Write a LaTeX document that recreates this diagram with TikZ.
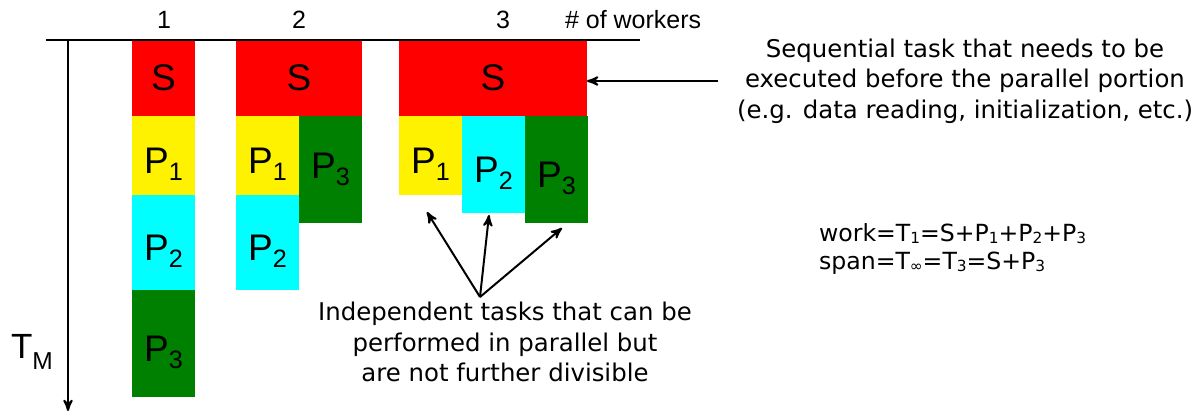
\documentclass[tikz,border=0pt]{standalone}
\usepackage{fontspec}
\setmainfont{Liberation Sans}
\newfontfamily\dejavu{DejaVu Sans}
\usetikzlibrary{positioning,arrows}

\definecolor{dkgreen}{RGB}{0,128,0}
\definecolor{aqua}{RGB}{0,255,255}
\newcommand{\lo}[2][.68]{\raisebox{-.2em}{\scalebox{#1}{#2}}}
\newcommand{\idx}[1]{\raisebox{-.1em}{\scalebox{.65}{#1}}}

\tikzstyle{task} = [rectangle, inner sep=0pt, outer sep=0pt, minimum width=31.5pt,
    font=\fontsize{18.5}{20}\selectfont]
\tikzstyle{seq} = [task, fill=red, minimum height=38pt]
\tikzstyle{ptask} = [task, text height=18pt, text depth=0pt]
\tikzstyle{pone} = [ptask, fill=yellow, minimum height=39.5pt]
\tikzstyle{ptwo} = [ptask, fill=aqua, minimum height=47.5pt]
\tikzstyle{pthree} = [ptask, fill=dkgreen, minimum height=53.5pt]
\tikzstyle{count} = [font=\fontsize{12.5}{15}\selectfont]
\tikzstyle{note} = [font=\dejavu\fontsize{12.2}{15.2}\selectfont, align=center]
\tikzstyle{line} = [draw, line width=1pt, -stealth']

\begin{document}
\begin{tikzpicture}[x=0.5pt, y=-0.5pt]
\useasboundingbox (0,0) rectangle (1200,412);
 % one worker
 \node[seq, anchor=north west] (s1) at (132,40) {S};
 \node[pone, below=0pt of s1] (p11) {P\lo1};
 \node[ptwo, below=0pt of p11] (p12) {P\lo2};
 \node[pthree, below=0pt of p12] (p13) {P\lo3};
 % two workers
 \node[seq, minimum width=63pt, anchor=north west] (s2) at (236,40) {S};
 \node[pone, anchor=north west] (p21) at (s2.south west) {P\lo1};
 \node[ptwo, below=0pt of p21] (p22) {P\lo2};
 \node[pthree, text height=9pt, anchor=north west] (p23) at (p21.north east) {P\lo3};
 % three workers
 \node[seq, minimum width=94pt, anchor=north west] (s3) at (399,40) {S};
 \node[pone, anchor=north west] (p31) at (s3.south west) {P\lo1};
 \node[ptwo, minimum height=48.5pt, anchor=north west] (p32) at (p31.north east) {P\lo2};
 \node[pthree, anchor=north west] (p33) at (p32.north east) {P\lo3};

 % axes
 \coordinate (left) at (46,40);
 \coordinate (right) at (640,40);
 \coordinate (t0) at (68,40);
 \coordinate (tend) at (68,411);
 \draw[line width=1pt] (left) -- (right);
 \path[line] (t0) -- (tend);
 \node[count] (w1) at (164,20) {1};
 \node[count] (w2) at (299,20) {2};
 \node[count] (w3) at (503,20) {3};
 \node[count, anchor=west] (wlab) at (558,20) {\# of workers};
 \node[font=\fontsize{17.5}{20}\selectfont] (tm) at (32,352) {T\raisebox{-.3em}{\scalebox{.7}{M}}};

 % notes
 \node[note] (seqtxt) at (965,81) {Sequential task that needs to be\\
   executed before the parallel portion\\(e.g. data reading, initialization, etc.)};
 \node[note] (ind) at (505,342) {Independent tasks that can be\\
   performed in parallel but\\are not further divisible};
 \node[note, align=left, anchor=west, font=\dejavu\fontsize{11.8}{14}\selectfont] (frm) at (812,249)
   {work=T\idx1=S+P\idx1+P\idx2+P\idx3\\span=T\idx{∞}=T\idx3=S+P\idx3};

 % arrows
 \path[line, shorten <=6pt] (seqtxt.west) -- (seqtxt.west -| s3.east);
 \coordinate (fan) at (480,297);
 \coordinate (a1) at (427,212);
 \coordinate (a2) at (489,215);
 \coordinate (a3) at (562,228);
 \foreach \c in {a1,a2,a3}
   \path[line] (fan) -- (\c);
\end{tikzpicture}
\end{document}
